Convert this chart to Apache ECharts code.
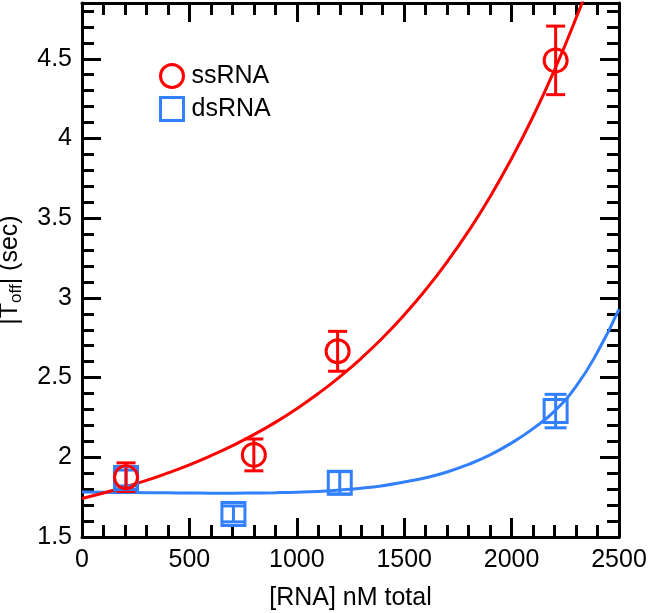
<!DOCTYPE html>
<html>
<head>
<meta charset="utf-8">
<script src="https://cdn.jsdelivr.net/npm/echarts@6/dist/echarts.min.js"></script>
<style>html,body{margin:0;padding:0;background:#fff}#c{width:650px;height:613px}</style>
</head>
<body>
<div id="c"></div>
<script>
// Measured points
const ssX = [205, 800, 1190, 2205];
const ssY = [1.875, 2.015, 2.665, 4.49];
const ssErr = [0.09, 0.10, 0.125, 0.215];
const dsX = [205, 705, 1200, 2205];
const dsY = [1.87, 1.645, 1.84, 2.29];
const dsErr = [0.05, 0.05, 0.07, 0.105];
// Fitted curves
const fitX = [0,100,200,300,400,500,600,700,800,900,1000,1100,1200,1300,1400,1500,1600,1700,1800,1900,2000,2100,2200,2300,2400,2500];
const ssFit = [1.742,1.776,1.814,1.855,1.902,1.953,2.010,2.073,2.142,2.219,2.305,2.400,2.505,2.621,2.750,2.893,3.051,3.226,3.420,3.635,3.874,4.138,4.430,4.755,5.11,5.51];
const dsFit = [1.783,1.781,1.779,1.778,1.777,1.776,1.775,1.775,1.776,1.778,1.781,1.786,1.795,1.806,1.822,1.845,1.872,1.908,1.956,2.015,2.090,2.180,2.290,2.445,2.660,2.930];
const xTicks = [0, 500, 1000, 1500, 2000, 2500];
const yTicks = [1.5, 2, 2.5, 3, 3.5, 4, 4.5];

const RED = '#ff0000', BLUE = '#3380ff';
const FONT = 'Liberation Sans';

function pairs(xs, ys) { return xs.map((x, i) => [x, ys[i]]); }
function errData(xs, ys, es) { return xs.map((x, i) => [x, ys[i] - es[i], ys[i] + es[i]]); }
function errSeries(data, color, cap) {
  return {
    type: 'custom', data: data, z: 5, silent: true,
    renderItem: function (params, api) {
      const lo = api.coord([api.value(0), api.value(1)]);
      const hi = api.coord([api.value(0), api.value(2)]);
      const st = { stroke: color, lineWidth: 3, fill: null };
      return { type: 'group', children: [
        { type: 'line', shape: { x1: lo[0], y1: lo[1], x2: hi[0], y2: hi[1] }, style: st },
        { type: 'line', shape: { x1: lo[0] - cap / 2, y1: lo[1], x2: lo[0] + cap / 2, y2: lo[1] }, style: st },
        { type: 'line', shape: { x1: hi[0] - cap / 2, y1: hi[1], x2: hi[0] + cap / 2, y2: hi[1] }, style: st }
      ]};
    }
  };
}

const axisCommon = {
  axisLine: { show: true, onZero: false, lineStyle: { color: '#000', width: 3 } },
  axisTick: { show: true, inside: true, length: 19, lineStyle: { color: '#000', width: 3 } },
  minorTick: { show: true, splitNumber: 5, length: 12, lineStyle: { color: '#000', width: 3 } },
  splitLine: { show: false }
};

const chart = echarts.init(document.getElementById('c'), null, { renderer: 'canvas' });
chart.setOption({
  animation: false,
  backgroundColor: '#fff',
  textStyle: { fontFamily: FONT },
  grid: { left: 82, right: 31, top: 3, bottom: 76, containLabel: false, outerBoundsMode: 'none' },
  legend: {
    orient: 'vertical', left: 159, top: 63, padding: 0, itemWidth: 23, itemHeight: 23, itemGap: 7,
    textStyle: { fontSize: 25, color: '#000', fontFamily: FONT, padding: [0, 0, 0, 3] },
    data: [
      { name: 'ssRNA', icon: 'circle', itemStyle: { color: 'rgba(0,0,0,0)', borderColor: RED, borderWidth: 3 } },
      { name: 'dsRNA', icon: 'rect', itemStyle: { color: 'rgba(0,0,0,0)', borderColor: BLUE, borderWidth: 3 } }
    ]
  },
  xAxis: [
    Object.assign({
      type: 'value', min: xTicks[0], max: xTicks[xTicks.length - 1], interval: 500,
      name: '[RNA] nM total', nameLocation: 'middle', nameGap: 49,
      nameTextStyle: { fontSize: 25, color: '#000', fontFamily: FONT },
      axisLabel: { fontSize: 25, color: '#000', margin: 11, fontFamily: FONT,
        formatter: function (v) { return String(v); } }
    }, axisCommon),
    Object.assign({
      type: 'value', position: 'top', min: xTicks[0], max: xTicks[xTicks.length - 1], interval: 500,
      axisLabel: { show: false }
    }, axisCommon)
  ],
  yAxis: [
    Object.assign({
      type: 'value', min: yTicks[0], max: 4.85, interval: 0.5,
      name: '|T{sub|off}| (sec)', nameLocation: 'middle', nameGap: 57,
      nameTextStyle: { fontSize: 25, color: '#000', fontFamily: FONT,
        rich: { sub: { fontSize: 17, fontFamily: FONT, color: '#000', padding: [12, 0, 0, 0] } } },
      axisLabel: { fontSize: 25, color: '#000', margin: 10, fontFamily: FONT, showMaxLabel: false,
        formatter: function (v) { return String(v); } }
    }, axisCommon),
    Object.assign({
      type: 'value', position: 'right', min: yTicks[0], max: 4.85, interval: 0.5,
      axisLabel: { show: false }
    }, axisCommon)
  ],
  series: [
    { type: 'line', data: pairs(fitX, dsFit), smooth: true, showSymbol: false, symbol: 'none', clip: true,
      lineStyle: { color: BLUE, width: 3 }, z: 2, silent: true },
    { type: 'line', data: pairs(fitX, ssFit), smooth: true, showSymbol: false, symbol: 'none', clip: true,
      lineStyle: { color: RED, width: 3 }, z: 3, silent: true },
    errSeries(errData(dsX, dsY, dsErr), BLUE, 22),
    errSeries(errData(ssX, ssY, ssErr), RED, 19),
    { name: 'dsRNA', type: 'scatter', data: pairs(dsX, dsY), symbol: 'rect', symbolSize: 23, z: 6,
      itemStyle: { color: 'rgba(0,0,0,0)', borderColor: BLUE, borderWidth: 3, opacity: 1 } },
    { name: 'ssRNA', type: 'scatter', data: pairs(ssX, ssY), symbol: 'circle', symbolSize: 23, z: 7,
      itemStyle: { color: 'rgba(0,0,0,0)', borderColor: RED, borderWidth: 3, opacity: 1 } }
  ]
});
</script>
</body>
</html>
